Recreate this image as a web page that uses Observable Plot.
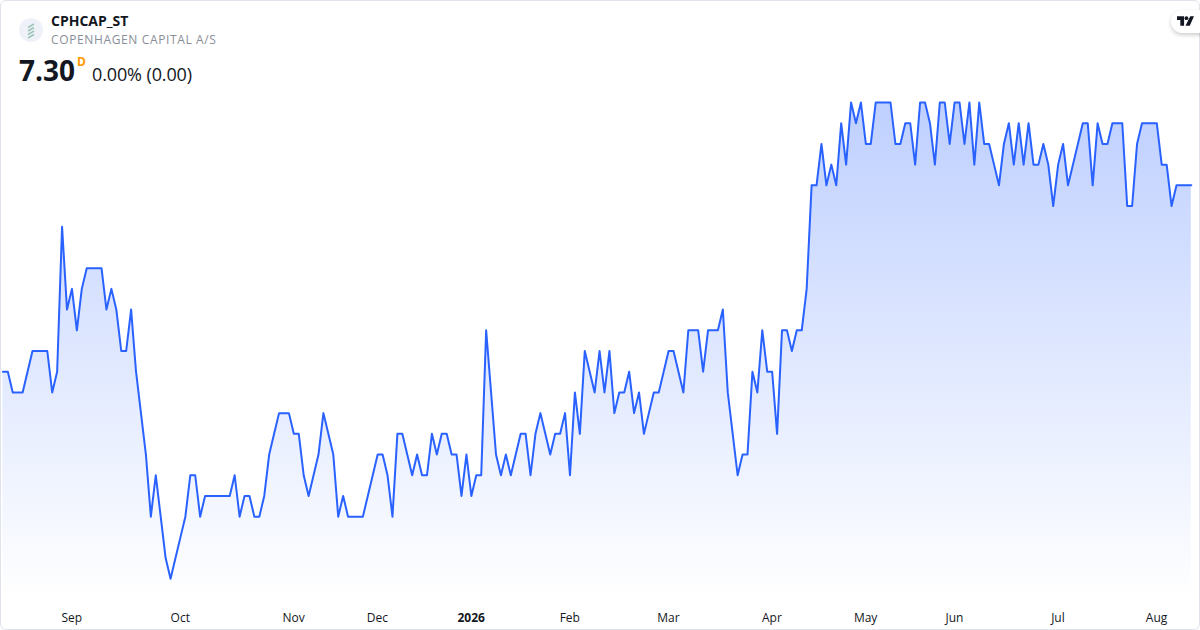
<!DOCTYPE html>
<html>
<head>
<meta charset="utf-8">
<script src="https://cdn.jsdelivr.net/npm/d3@7"></script>
<script src="https://cdn.jsdelivr.net/npm/@observablehq/plot@0.6"></script>
<style>
html,body{margin:0;padding:0;background:#fff;}
#card{position:relative;width:1200px;height:630px;overflow:hidden;font-family:"Open Sans",sans-serif;background:#fff;}
#card svg.chart{position:absolute;left:0;top:0;}
#frame{position:absolute;left:0;top:0;width:1198px;height:628px;border:1px solid #e0e3eb;border-radius:6px;pointer-events:none;}
.t{position:absolute;white-space:nowrap;line-height:1;}
#logo{position:absolute;left:19px;top:18px;}
#tv{position:absolute;left:1171px;top:10px;width:50px;height:23px;background:#fff;border-radius:12px;box-shadow:0 2px 4px rgba(0,0,0,.2);}
#tv svg{position:absolute;left:6px;top:6px;}
</style>
</head>
<body>
<div id="card">
  <div id="plot"></div>
  <div id="frame"></div>
  <svg id="logo" width="24" height="24" viewBox="0 0 24 24">
    <circle cx="12" cy="12" r="12" fill="#eef2f8"/>
    <g stroke="#9cc4b8" stroke-width="1.5" fill="none">
      <path d="M9 9.5 L15 6"/><path d="M9 13 L15 9.5"/><path d="M9 16.5 L15 13"/><path d="M9 20 L15 16.5"/>
    </g>
  </svg>
  <div class="t" id="sym" style="left:51px;top:13.5px;font-size:14px;font-weight:700;color:#131722;">CPHCAP_ST</div>
  <div class="t" id="name" style="left:51px;top:34px;font-size:12px;color:#8a8e99;letter-spacing:.63px">COPENHAGEN CAPITAL A/S</div>
  <div class="t" id="price" style="left:19px;top:56px;font-size:28px;font-weight:700;color:#131722">7.30</div>
  <div class="t" id="flag" style="left:77px;top:56px;font-size:12px;font-weight:700;color:#ff9800">D</div>
  <div class="t" id="chg" style="left:92px;top:65px;font-size:18px;color:#131722;letter-spacing:-.12px">0.00% (0.00)</div>
  <div id="tv"><svg width="17" height="10" viewBox="0 0 36 20"><path d="M0 0H15V20H7V8H0Z M28 0H36L27 20H18Z" fill="#131722"/><circle cx="20" cy="4" r="4" fill="#131722"/></svg></div>
</div>
<script>
const prices = [
 6.4,6.4,6.3,6.3,6.3,6.4,6.5,6.5,6.5,6.5,
 6.3,6.4,7.1,6.7,6.8,6.6,6.8,6.9,6.9,6.9,
 6.9,6.7,6.8,6.7,6.5,6.5,6.7,6.4,6.2,6.0,
 5.7,5.9,5.7,5.5,5.4,5.5,5.6,5.7,5.9,5.9,
 5.7,5.8,5.8,5.8,5.8,5.8,5.8,5.9,5.7,5.8,
 5.8,5.7,5.7,5.8,6.0,6.1,6.2,6.2,6.2,6.1,
 6.1,5.9,5.8,5.9,6.0,6.2,6.1,6.0,5.7,5.8,
 5.7,5.7,5.7,5.7,5.8,5.9,6.0,6.0,5.9,5.7,
 6.1,6.1,6.0,5.9,6.0,5.9,5.9,6.1,6.0,6.1,
 6.1,6.0,6.0,5.8,6.0,5.8,5.9,5.9,6.6,6.3,
 6.0,5.9,6.0,5.9,6.0,6.1,6.1,5.9,6.1,6.2,
 6.1,6.0,6.1,6.1,6.2,5.9,6.3,6.1,6.5,6.4,
 6.3,6.5,6.3,6.5,6.2,6.3,6.3,6.4,6.2,6.3,
 6.1,6.2,6.3,6.3,6.4,6.5,6.5,6.4,6.3,6.6,
 6.6,6.6,6.4,6.6,6.6,6.6,6.7,6.3,6.1,5.9,
 6.0,6.0,6.4,6.3,6.6,6.4,6.4,6.1,6.6,6.6,
 6.5,6.6,6.6,6.8,7.3,7.3,7.5,7.3,7.4,7.3,
 7.6,7.4,7.7,7.6,7.7,7.5,7.5,7.7,7.7,7.7,
 7.7,7.5,7.5,7.6,7.6,7.4,7.7,7.7,7.6,7.4,
 7.7,7.7,7.5,7.7,7.7,7.5,7.7,7.4,7.7,7.5,
 7.5,7.4,7.3,7.5,7.6,7.4,7.6,7.4,7.6,7.4,
 7.4,7.5,7.4,7.2,7.4,7.5,7.3,7.4,7.5,7.6,
 7.6,7.3,7.6,7.5,7.5,7.6,7.6,7.6,7.2,7.2,
 7.5,7.6,7.6,7.6,7.6,7.4,7.4,7.2,7.3,7.3,7.3,7.3
];
const monthTicks = [14,36,59,76,115,135,156,175,193,214,234];
const monthLabels = ["Sep","Oct","Nov","Dec","Feb","Mar","Apr","May","Jun","Jul","Aug"];
const yearTicks = [95];
const yearLabels = ["2026"];
const baseline = 5.3;
const rows = prices.map((price, i) => ({i, price}));

const gradientDefs = () => {
  const defs = d3.create("svg:defs");
  const g = defs.append("linearGradient").attr("id", "areaFill").attr("x1", 0).attr("y1", 0).attr("x2", 0).attr("y2", 1);
  g.append("stop").attr("offset", 0).attr("stop-color", "#2962ff").attr("stop-opacity", 0.3);
  g.append("stop").attr("offset", 1).attr("stop-color", "#2962ff").attr("stop-opacity", 0.0);
  return defs.node();
};
const fmt = (ticks, labels) => d => labels[ticks.indexOf(d)];
const axisStyle = {anchor: "bottom", tickSize: 0, tickPadding: 13, fontSize: 12, label: null, fill: "#131722", dx: -0.2};

const chart = Plot.plot({
  width: 1200, height: 630,
  marginTop: 0, marginRight: 0, marginBottom: 30, marginLeft: 0,
  style: {fontFamily: '"Open Sans",sans-serif', background: "transparent", overflow: "visible"},
  x: {type: "linear", domain: [0, 241], range: [2.4, 1190.8]},
  y: {type: "linear", domain: [baseline, 7.7], range: [599, 102]},
  marks: [
    gradientDefs,
    Plot.areaY(rows, {x: "i", y1: baseline, y2: "price", fill: "url(#areaFill)", curve: "linear"}),
    Plot.lineY(rows, {x: "i", y: "price", stroke: "#2962ff", strokeWidth: 2, curve: "linear", strokeLinejoin: "round"}),
    Plot.axisX(monthTicks, {...axisStyle, tickFormat: fmt(monthTicks, monthLabels)}),
    Plot.axisX(yearTicks, {...axisStyle, fontWeight: 700, tickFormat: fmt(yearTicks, yearLabels)}),
    Plot.axisY({ticks: [], label: null, tickSize: 0})
  ]
});
chart.classList.add("chart");
document.getElementById("plot").appendChild(chart);
</script>
</body>
</html>
